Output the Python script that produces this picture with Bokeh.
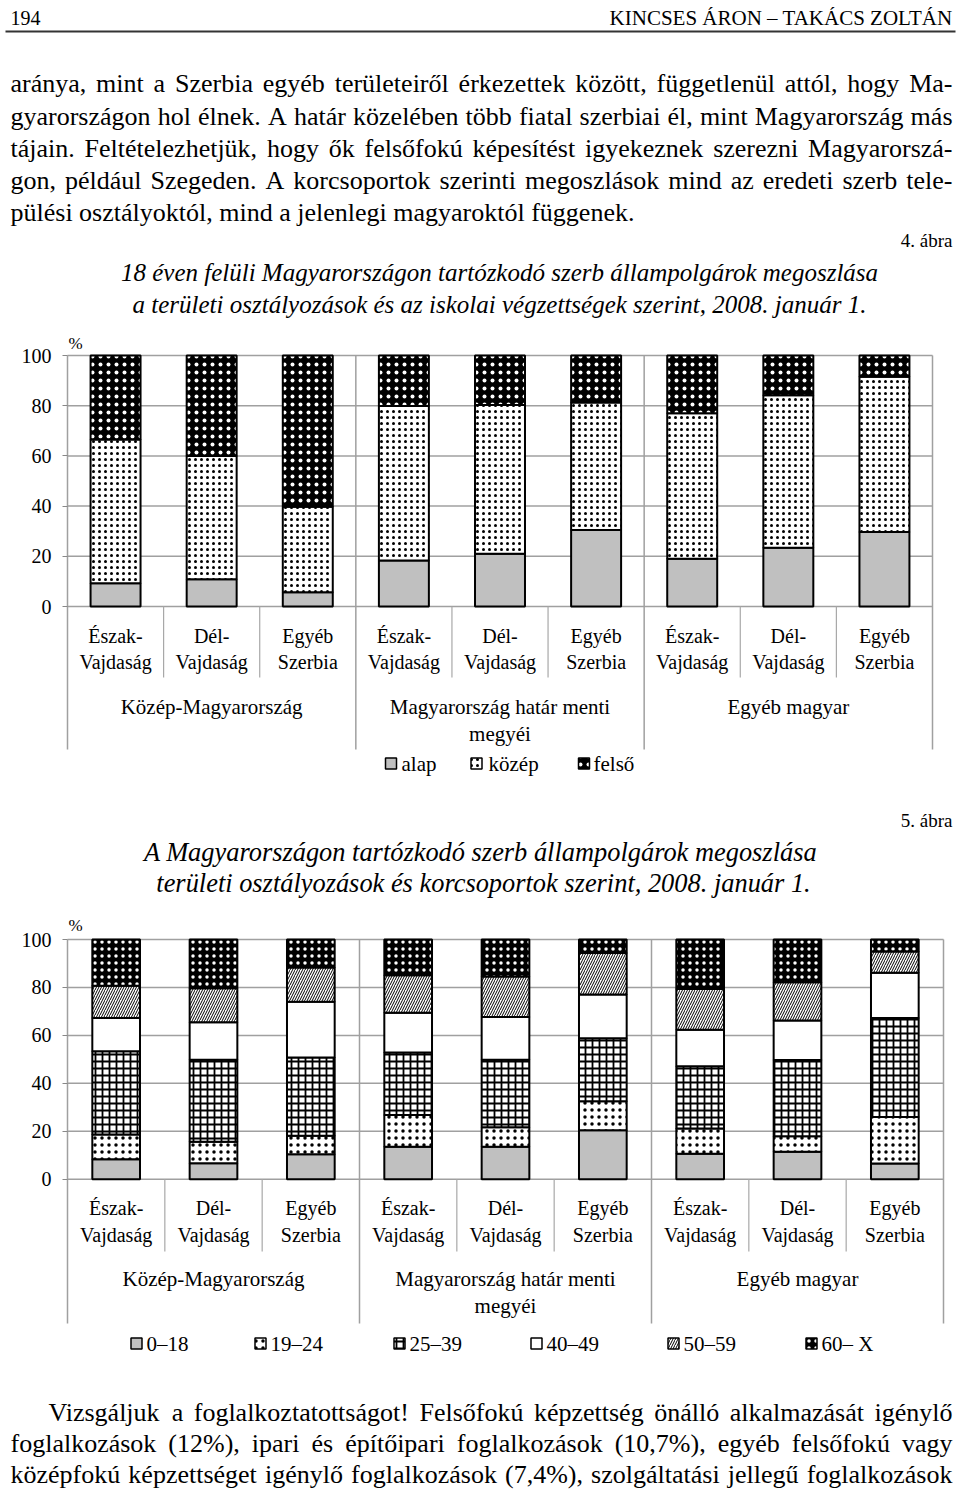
import unicodedata
from bokeh.plotting import figure
from bokeh.models import Range1d, FixedTicker, LinearAxis, ColumnDataSource
from bokeh.core.properties import value
from bokeh.embed import file_html
from bokeh.resources import INLINE

SERIF = "Liberation Serif"
PW, PH = 960, 1491

# ---------------- data ----------------
groups = ["Közép-Magyarország", "Magyarország határ menti\nmegyéi", "Egyéb magyar"]
regions = ["Észak-\nVajdaság", "Dél-\nVajdaság", "Egyéb\nSzerbia"]

edu_levels = ["alap", "közép", "felső"]
alap = [9.3, 10.9, 5.7, 18.3, 21.0, 30.5, 19.0, 23.4, 29.7]
kozep = [57.2, 49.1, 34.0, 61.6, 59.3, 50.8, 58.0, 60.8, 61.8]
felso = [33.5, 40.0, 60.3, 20.1, 19.7, 18.7, 23.0, 15.8, 8.5]

age_groups = ["0–18", "19–24", "25–39", "40–49", "50–59", "60– X"]
age_0_18 = [8.3, 6.7, 10.4, 13.5, 13.5, 20.4, 10.6, 11.4, 6.5]
age_19_24 = [10.3, 8.9, 7.7, 13.3, 8.2, 12.1, 10.5, 6.5, 19.4]
age_25_39 = [34.8, 34.2, 32.7, 26.1, 28.1, 26.3, 26.0, 31.8, 41.3]
age_40_49 = [13.8, 15.7, 23.2, 16.5, 17.9, 18.3, 15.3, 16.5, 18.9]
age_50_59 = [13.5, 14.2, 14.3, 15.7, 16.9, 17.3, 17.0, 16.0, 8.9]
age_60_x = [19.3, 20.3, 11.7, 14.9, 15.4, 5.6, 20.6, 17.8, 5.0]

y_ticks = [0, 20, 40, 60, 80, 100]

header_left = "194"
header_right = "KINCSES ÁRON – TAKÁCS ZOLTÁN"
para1 = [
    "aránya, mint a Szerbia egyéb területeiről érkezettek között, függetlenül attól, hogy Ma-",
    "gyarországon hol élnek. A határ közelében több fiatal szerbiai él, mint Magyarország más",
    "tájain. Feltételezhetjük, hogy ők felsőfokú képesítést igyekeznek szerezni Magyarorszá-",
    "gon, például Szegeden. A korcsoportok szerinti megoszlások mind az eredeti szerb tele-",
    "pülési osztályoktól, mind a jelenlegi magyaroktól függenek.",
]
fig1_label = "4. ábra"
title1 = ["18 éven felüli Magyarországon tartózkodó szerb állampolgárok megoszlása",
          "a területi osztályozások és az iskolai végzettségek szerint, 2008. január 1."]
fig2_label = "5. ábra"
title2 = ["A Magyarországon tartózkodó szerb állampolgárok megoszlása",
          "területi osztályozások és korcsoportok szerint, 2008. január 1."]
para2 = [
    "Vizsgáljuk a foglalkoztatottságot! Felsőfokú képzettség önálló alkalmazását igénylő",
    "foglalkozások (12%), ipari és építőipari foglalkozások (10,7%), egyéb felsőfokú vagy",
    "középfokú képzettséget igénylő foglalkozások (7,4%), szolgáltatási jellegű foglalkozások",
]

# ---------------- text helpers ----------------
TIMES = dict(zip("abcdefghijklmnopqrstuvwxyz",
                 [444, 500, 444, 500, 444, 333, 500, 500, 278, 278, 500, 278, 778,
                  500, 500, 500, 500, 333, 389, 278, 500, 500, 722, 500, 500, 444]))
TIMES.update(dict(zip("ABCDEFGHIJKLMNOPQRSTUVWXYZ",
                      [722, 667, 667, 722, 611, 556, 722, 722, 333, 389, 722, 611, 889,
                       722, 722, 556, 722, 667, 556, 611, 722, 722, 944, 722, 722, 611])))
TIMES.update({" ": 250, ",": 250, ".": 250, "-": 333, "–": 500, "!": 333, "(": 333,
              ")": 333, "%": 833, ":": 278, ";": 278})
for d in "0123456789":
    TIMES[d] = 500


def tw(s, size):
    t = 0
    for ch in s:
        b = unicodedata.normalize("NFD", ch)[0]
        t += TIMES.get(b, 500)
    return t * size / 1000.0


def justify(lines, x_first, x0, x1, ys, size, last_ragged):
    X, Y, T = [], [], []
    for i, (line, y) in enumerate(zip(lines, ys)):
        words = line.split(" ")
        ws = [tw(w, size) for w in words]
        start = x_first if i == 0 else x0
        if (last_ragged and i == len(lines) - 1) or len(words) == 1:
            gap = tw(" ", size)
        else:
            gap = (x1 - start - sum(ws)) / (len(words) - 1)
        x = start
        for w, wd in zip(words, ws):
            X.append(x); Y.append(y); T.append(w)
            x += wd + gap
    return X, Y, T


p = figure(width=PW, height=PH, x_range=Range1d(0, PW), y_range=Range1d(PH, 0),
           output_backend="svg", toolbar_location=None, x_axis_location=None,
           y_axis_location=None, min_border=0, outline_line_color=None)
p.xgrid.visible = False
p.ygrid.visible = False


def put(xs, ys, texts, size, align="left", style="normal", xr="default", yr="default"):
    p.text(x=xs, y=ys, text=texts, text_font=value(SERIF), text_font_size=value(f"{size}px"),
           text_font_style=style, text_align=align, text_baseline="middle", text_color="black",
           x_range_name=xr, y_range_name=yr)


BODY = 26

# ---------------- page texts ----------------
put([10], [17], [header_left], 20)
put([952], [17], [header_right], 21, align="right")
p.segment(x0=[5], x1=[955], y0=[31], y1=[31], line_color="#333333", line_width=2)
X, Y, T = justify(para1, 10, 10, 952, [83, 116, 148, 180, 212], BODY, True)
put(X, Y, T, BODY)
put([952], [240], [fig1_label], 19, align="right")
put([499, 499], [272, 304], title1, 25, align="center", style="italic")

put([952], [820], [fig2_label], 19, align="right")
put([480, 483], [851, 882], title2, 26.4, align="center", style="italic")

X, Y, T = justify(para2, 48, 10, 952, [1412, 1443, 1474], BODY, False)
put(X, Y, T, BODY)


# ---------------- chart builder ----------------
def chart(name, left, right, y0px, y100px, stackers, data, fills, hatches, hcolors,
          hscales, hweights, bar_w, rows, legend_items, legend_y, pct_y, short_end, long_end):
    ncat = len(data[stackers[0]])
    scale = (y0px - y100px) / 100.0
    catw = (right - left) / ncat
    xr, yr = "x" + name, "y" + name
    p.extra_x_ranges[xr] = Range1d(-left / catw, (PW - left) / catw)
    p.extra_y_ranges[yr] = Range1d((y0px - PH) / scale, y0px / scale)

    def yd(py):
        return (y0px - py) / scale

    ax = LinearAxis(x_range_name=xr, y_range_name=yr, fixed_location=0,
                    ticker=FixedTicker(ticks=y_ticks), axis_line_color=None,
                    major_tick_line_color="#888888", major_tick_line_width=1.2,
                    major_tick_out=5, major_tick_in=0,
                    minor_tick_line_color=None, major_label_standoff=11,
                    major_label_text_font=SERIF, major_label_text_font_size="20px",
                    major_label_text_color="black")
    p.add_layout(ax, "left")

    # gridlines and plot border
    p.segment(x0=[0] * len(y_ticks), x1=[ncat] * len(y_ticks), y0=y_ticks, y1=y_ticks,
              line_color="#a0a0a0", line_width=1.5, x_range_name=xr, y_range_name=yr)
    nreg = len(regions)
    b_all = list(range(ncat + 1))
    short_b = [b for b in b_all if b % nreg != 0]
    long_b = [b for b in b_all if b % nreg == 0]
    p.segment(x0=short_b, x1=short_b, y0=[0] * len(short_b), y1=[yd(short_end)] * len(short_b),
              line_color="#a8a8a8", line_width=1.2, x_range_name=xr, y_range_name=yr)
    p.segment(x0=long_b, x1=long_b, y0=[100] * len(long_b), y1=[yd(long_end)] * len(long_b),
              line_color="#a0a0a0", line_width=1.5, x_range_name=xr, y_range_name=yr)

    src = ColumnDataSource(dict(x=[i + 0.5 for i in range(ncat)], **data))
    p.vbar_stack(stackers, x="x", width=bar_w, source=src, fill_color=fills,
                 hatch_pattern=hatches, hatch_color=hcolors, hatch_scale=hscales,
                 hatch_weight=hweights, line_color="black", line_width=2,
                 x_range_name=xr, y_range_name=yr)

    # category labels
    cx, cy, ct = [], [], []
    for i in range(ncat):
        l1, l2 = regions[i % nreg].split("\n")
        cx += [i + 0.5, i + 0.5]
        cy += [rows[0], rows[1]]
        ct += [l1, l2]
    put(cx, cy, ct, 20, align="center", xr=xr)
    gx, gy, gt = [], [], []
    for g, gname in enumerate(groups):
        for k, ln in enumerate(gname.split("\n")):
            gx.append(g * nreg + nreg / 2.0)
            gy.append(rows[2 + k])
            gt.append(ln)
    put(gx, gy, gt, 21, align="center", xr=xr)
    put([left + 1], [pct_y], ["%"], 17)

    # legend
    for (sq_x, tx, lname), fc, hp, hc, hs, hw in zip(legend_items, fills, hatches, hcolors,
                                                      hscales, hweights):
        p.rect(x=[sq_x], y=[legend_y], width=11, height=11, width_units="screen",
               height_units="screen", fill_color=fc, hatch_pattern=hp, hatch_color=hc,
               hatch_scale=hs, hatch_weight=hw, line_color="black", line_width=1.5)
        put([tx], [legend_y], [lname], 21)


chart("1", 67, 932, 606, 355, edu_levels,
      {"alap": alap, "közép": kozep, "felső": felso},
      ["#c0c0c0", "white", "black"], [" ", ".", "."], ["black", "black", "white"],
      [4, 6, 8], [1.0, 1.0, 1.5], 0.52,
      [635, 661, 706, 733],
      [(390.5, 401, "alap"), (476, 488, "közép"), (583.5, 593, "felső")],
      763, 343, 677, 749)

age_keys = ["a0", "a19", "a25", "a40", "a50", "a60"]
chart("2", 67, 943, 1178.7, 939, age_keys,
      dict(zip(age_keys, [age_0_18, age_19_24, age_25_39, age_40_49, age_50_59, age_60_x])),
      ["#c0c0c0", "white", "white", "white", "white", "black"],
      [" ", ".", "+", " ", "/", "."],
      ["black", "black", "black", "black", "black", "white"],
      [4, 7, 7, 4, 5, 7], [1, 1.1, 1.8, 1, 1, 1.5], 0.49,
      [1207, 1234, 1278, 1305],
      [(136, 146, age_groups[0]), (260, 270, age_groups[1]), (399, 409, age_groups[2]),
       (536, 546, age_groups[3]), (673, 683, age_groups[4]), (811, 821, age_groups[5])],
      1343, 925, 1251, 1323)

open("out.html", "w").write(file_html(p, INLINE))
